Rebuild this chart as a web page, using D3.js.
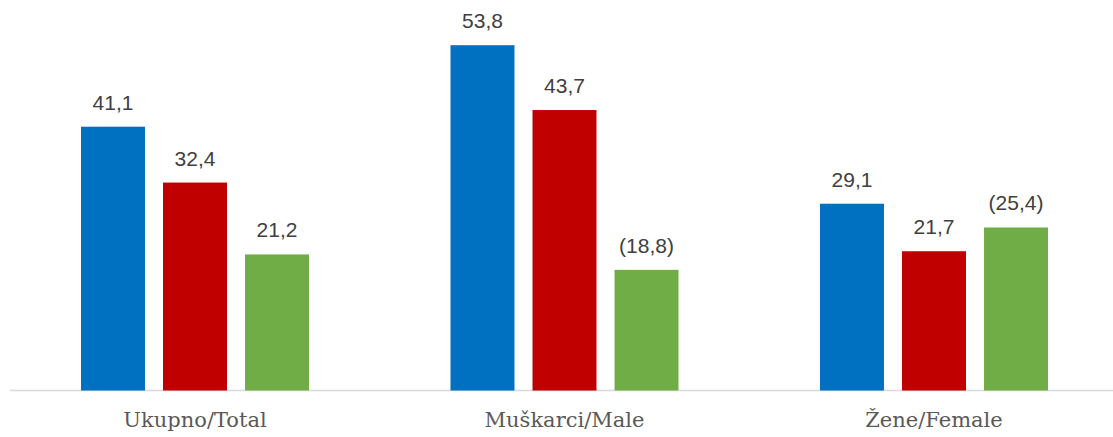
<!DOCTYPE html>
<html><head><meta charset="utf-8">
<script src="https://cdn.jsdelivr.net/npm/d3@7"></script>
<style>body{margin:0;background:#fff}svg{display:block}</style>
</head><body>
<script>
const categories = ["Ukupno/Total", "Muškarci/Male", "Žene/Female"];
const seriesNames = ["s1", "s2", "s3"];
const values1 = [41.1, 53.8, 29.1];
const values2 = [32.4, 43.7, 21.7];
const values3 = [21.2, 18.8, 25.4];
const labels3 = ["21,2", "(18,8)", "(25,4)"];
const colors = ["#0070C0", "#C00000", "#70AD47"];

const W = 1113, H = 437;
const svg = d3.select("body").append("svg").attr("width", W).attr("height", H);
const x0 = d3.scaleBand().domain(categories).range([10.25, 1118.75]).paddingInner(0).paddingOuter(0);
const x1 = d3.scaleBand().domain(seriesNames).range([70.75, 369.5 - 70.75]).paddingInner(0.22).paddingOuter(0);
const y = d3.scaleLinear().domain([0, 60]).range([390.5, 390.5 - 60 * 6.418]);

const fmt = v => d3.format(".1f")(v).replace(".", ",");
const data = categories.map((c, i) => ({
  cat: c,
  vals: [
    {s: "s1", v: values1[i], lab: fmt(values1[i])},
    {s: "s2", v: values2[i], lab: fmt(values2[i])},
    {s: "s3", v: values3[i], lab: labels3[i]}
  ]
}));

svg.append("line").attr("x1", 10).attr("x2", W).attr("y1", 390.5).attr("y2", 390.5)
  .attr("stroke", "#d9d9d9").attr("stroke-width", 1.3);

const g = svg.selectAll("g.grp").data(data).join("g")
  .attr("transform", d => `translate(${x0(d.cat)},0)`);
g.selectAll("rect").data(d => d.vals).join("rect")
  .attr("x", d => x1(d.s)).attr("width", x1.bandwidth())
  .attr("y", d => y(d.v)).attr("height", d => y(0) - y(d.v))
  .attr("fill", (d, i) => colors[i]);
g.selectAll("text.val").data(d => d.vals).join("text").attr("class", "val")
  .attr("x", d => x1(d.s) + x1.bandwidth() / 2).attr("y", d => y(d.v) - 17)
  .attr("text-anchor", "middle").attr("font-family", "Liberation Sans, Arial, sans-serif")
  .attr("font-size", "21px").attr("fill", "#404040").text(d => d.lab);

svg.selectAll("text.cat").data(categories).join("text").attr("class", "cat")
  .attr("x", d => x0(d) + x0.bandwidth() / 2).attr("y", 427)
  .attr("text-anchor", "middle").attr("font-family", "DejaVu Serif, serif")
  .attr("font-size", "21px").attr("fill", "#595959").text(d => d);
</script>
</body></html>
